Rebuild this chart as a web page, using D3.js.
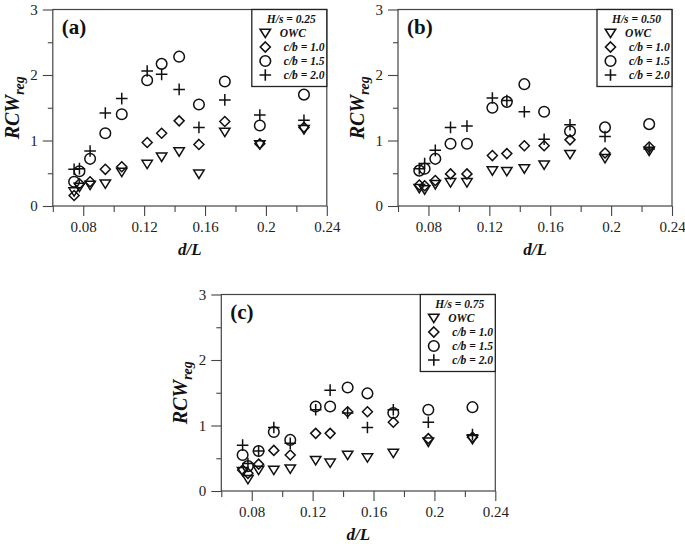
<!DOCTYPE html>
<html>
<head>
<meta charset="utf-8">
<script src="https://cdn.jsdelivr.net/npm/d3@7"></script>
<style>
  html, body { margin: 0; padding: 0; background: #fff; }
  svg { display: block; }
  text { font-family: "Liberation Serif", "Times New Roman", serif; }
</style>
</head>
<body>
<svg id="chart" width="685" height="544"></svg>
<script>
// ---------- data ----------
const dL = [0.074, 0.0775, 0.0845, 0.0945, 0.1053, 0.122, 0.1315, 0.143, 0.156, 0.173, 0.196, 0.225];

const seriesNames = ["OWC", "c/b = 1.0", "c/b = 1.5", "c/b = 2.0"];
const panelLabels = ["(a)", "(b)", "(c)"];
const hsLabels = ["H/s = 0.25", "H/s = 0.50", "H/s = 0.75"];

const xTickValues = [0.08, 0.12, 0.16, 0.2, 0.24];
const xTickLabels = ["0.08", "0.12", "0.16", "0.2", "0.24"];
const xMinorTicks = [0.06, 0.1, 0.14, 0.18, 0.22];
const yTickValues = [0, 1, 2, 3];
const yTickLabels = ["0", "1", "2", "3"];
const yMinorTicks = [0.5, 1.5, 2.5];

// Panel (a) H/s = 0.25
const owcA  = [0.22, 0.29, 0.32, 0.34, 0.52, 0.64, 0.75, 0.83, 0.49, 1.13, 0.94, 1.17];
const cb10A = [0.16, 0.34, 0.37, 0.56, 0.60, 0.97, 1.11, 1.30, 0.94, 1.29, 0.95, 1.20];
const cb15A = [0.37, 0.53, 0.72, 1.11, 1.40, 1.92, 2.17, 2.28, 1.55, 1.90, 1.23, 1.70];
const cb20A = [0.56, 0.57, 0.84, 1.42, 1.64, 2.06, 2.01, 1.78, 1.20, 1.62, 1.39, 1.31];

// Panel (b) H/s = 0.50
const owcB  = [0.27, 0.25, 0.33, 0.36, 0.36, 0.54, 0.53, 0.57, 0.63, 0.79, 0.73, 0.84];
const cb10B = [0.32, 0.31, 0.39, 0.49, 0.49, 0.77, 0.80, 0.92, 0.92, 1.01, 0.81, 0.90];
const cb15B = [0.54, 0.57, 0.72, 0.95, 0.95, 1.50, 1.59, 1.86, 1.44, 1.14, 1.20, 1.25];
const cb20B = [0.57, 0.65, 0.85, 1.20, 1.22, 1.65, 1.61, 1.44, 1.02, 1.24, 1.06, 0.87];

// Panel (c) H/s = 0.75
const owcC  = [0.30, 0.18, 0.32, 0.32, 0.34, 0.47, 0.43, 0.55, 0.51, 0.58, 0.75, 0.79];
const cb10C = [0.32, 0.27, 0.41, 0.62, 0.55, 0.88, 0.88, 1.21, 1.21, 1.05, 0.80, 0.82];
const cb15C = [0.55, 0.38, 0.61, 0.90, 0.78, 1.29, 1.29, 1.58, 1.49, 1.19, 1.24, 1.28];
const cb20C = [0.70, 0.42, 0.61, 0.97, 0.73, 1.24, 1.54, 1.19, 0.97, 1.24, 1.05, 0.86];

// ---------- layout ----------
const W = 274, H = 196.5;
const panels = [
  { left: 52.8, top: 9.5, label: panelLabels[0], hs: hsLabels[0], series: [owcA, cb10A, cb15A, cb20A] },
  { left: 398,  top: 9.5, label: panelLabels[1], hs: hsLabels[1], series: [owcB, cb10B, cb15B, cb20B] },
  { left: 221.3, top: 294.5, label: panelLabels[2], hs: hsLabels[2], series: [owcC, cb10C, cb15C, cb20C] }
];

const x = d3.scaleLinear().domain([0.06, 0.24]).range([0, W]);
const y = d3.scaleLinear().domain([0, 3]).range([H, 0]);

// marker shapes (centered at 0,0)
function markerPath(kind) {
  const p = d3.path();
  if (kind === 0) {            // down triangle
    p.moveTo(-5.2, -3.8); p.lineTo(5.2, -3.8); p.lineTo(0, 4.6); p.closePath();
  } else if (kind === 1) {     // diamond
    p.moveTo(0, -5); p.lineTo(5, 0); p.lineTo(0, 5); p.lineTo(-5, 0); p.closePath();
  } else if (kind === 2) {     // circle
    p.moveTo(5.3, 0); p.arc(0, 0, 5.3, 0, 2 * Math.PI);
  } else {                     // plus
    p.moveTo(-5.8, 0); p.lineTo(5.8, 0); p.moveTo(0, -5.8); p.lineTo(0, 5.8);
  }
  return p.toString();
}

const svg = d3.select("#chart");
const axisColor = "#444";
const font = '"Liberation Serif", "Times New Roman", serif';

panels.forEach(pn => {
  const g = svg.append("g").attr("transform", `translate(${pn.left},${pn.top})`);

  // x axis major
  const xAxis = g.append("g").attr("transform", `translate(0,${H})`)
    .call(d3.axisBottom(x).tickValues(xTickValues).tickSize(10).tickPadding(5)
      .tickFormat((d, i) => xTickLabels[i]));
  // x axis minor
  const xMinor = g.append("g").attr("transform", `translate(0,${H})`)
    .call(d3.axisBottom(x).tickValues(xMinorTicks).tickSize(6).tickFormat(""));
  // y axis major
  const yAxis = g.append("g")
    .call(d3.axisLeft(y).tickValues(yTickValues).tickSize(10).tickPadding(5)
      .tickFormat((d, i) => yTickLabels[i]));
  const yMinor = g.append("g")
    .call(d3.axisLeft(y).tickValues(yMinorTicks).tickSize(5).tickFormat(""));

  [xAxis, xMinor, yAxis, yMinor].forEach(a => {
    a.select(".domain").remove();
    a.selectAll("line").attr("stroke", axisColor).attr("stroke-width", 1.1);
    a.selectAll("text").attr("font-family", font).attr("font-size", 15).attr("fill", "#222");
  });
  xMinor.selectAll("text").remove();
  yMinor.selectAll("text").remove();

  // frame
  g.append("rect").attr("x", 0).attr("y", 0).attr("width", W).attr("height", H)
    .attr("fill", "none").attr("stroke", axisColor).attr("stroke-width", 1.2);

  // axis titles
  g.append("text")
    .attr("x", W / 2).attr("y", H + 49)
    .attr("text-anchor", "middle")
    .attr("font-family", font).attr("font-size", 17)
    .attr("font-weight", "bold").attr("font-style", "italic").attr("fill", "#111")
    .text("d/L");

  const yt = g.append("text")
    .attr("transform", `translate(-34,${H / 2}) rotate(-90)`)
    .attr("text-anchor", "middle")
    .attr("font-family", font).attr("font-weight", "bold").attr("font-style", "italic")
    .attr("fill", "#111");
  yt.append("tspan").attr("font-size", 20).text("RCW");
  yt.append("tspan").attr("font-size", 14).attr("dy", 5).text("reg");

  // panel label
  g.append("text").attr("x", 9).attr("y", 24)
    .attr("font-family", font).attr("font-size", 21).attr("font-weight", "bold").attr("fill", "#111")
    .text(pn.label);

  // legend
  const lw = 75, lh = 77;
  const lg = g.append("g").attr("transform", `translate(${W - lw},0)`);
  lg.append("rect").attr("width", lw).attr("height", lh)
    .attr("fill", "#fff").attr("stroke", "#222").attr("stroke-width", 1.3);
  lg.append("text").attr("x", lw / 2 + 2).attr("y", 13.5)
    .attr("text-anchor", "middle")
    .attr("font-family", font).attr("font-size", 11.5).attr("font-weight", "bold").attr("font-style", "italic")
    .attr("fill", "#111").text(pn.hs);
  seriesNames.forEach((nm, k) => {
    const cy = 23.5 + k * 14;
    lg.append("path").attr("transform", `translate(13.5,${cy})`)
      .attr("d", markerPath(k)).attr("fill", "none").attr("stroke", "#111").attr("stroke-width", 1.6);
    lg.append("text").attr("x", k === 0 ? 28 : 32).attr("y", cy + 4)
      .attr("font-family", font).attr("font-size", 11.5).attr("font-weight", "bold").attr("font-style", "italic")
      .attr("fill", "#111").text(nm);
  });

  // data markers
  pn.series.forEach((vals, k) => {
    g.append("g").selectAll("path").data(vals).join("path")
      .attr("transform", (v, i) => `translate(${x(dL[i])},${y(v)})`)
      .attr("d", markerPath(k))
      .attr("fill", "none").attr("stroke", "#111").attr("stroke-width", 1.5);
  });
});
</script>
</body>
</html>
